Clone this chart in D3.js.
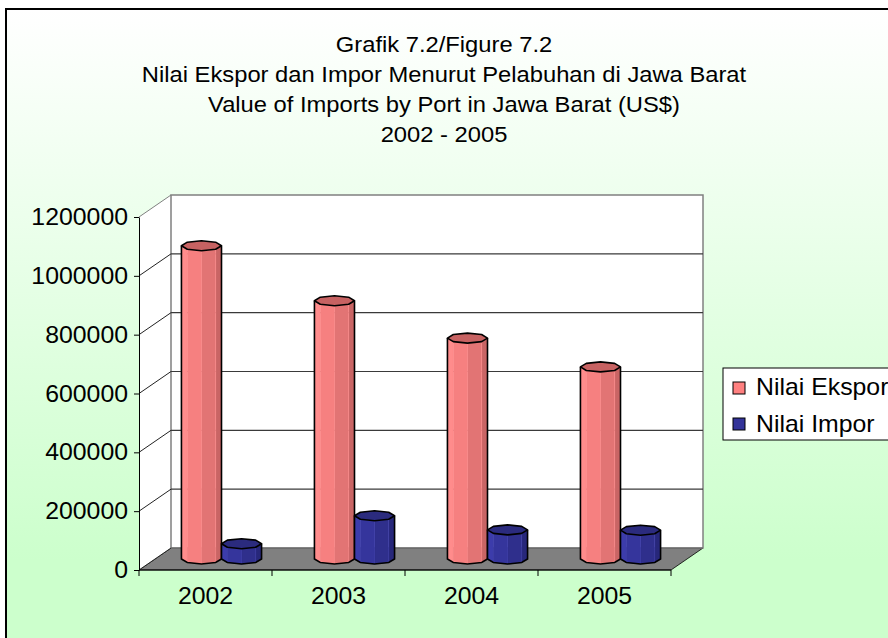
<!DOCTYPE html>
<html>
<head>
<meta charset="utf-8">
<script src="https://cdn.jsdelivr.net/npm/d3@7"></script>
<style>
  body { margin: 0; background: #fff; }
  svg text { font-family: "Liberation Sans", Arial, sans-serif; fill: #000; }
</style>
</head>
<body>
<svg width="888" height="638"></svg>
<script>
// data
var years = ['2002', '2003', '2004', '2005'];
var series = ['Nilai Ekspor', 'Nilai Impor'];
var ekspor = [1065000, 878000, 751000, 653000];
var impor = [52000, 147000, 99000, 98000];
var yTicks = [0, 200000, 400000, 600000, 800000, 1000000, 1200000];
var titles = ['Grafik 7.2/Figure 7.2',
	'Nilai Ekspor dan Impor Menurut Pelabuhan di Jawa Barat',
	'Value of Imports by Port in Jawa Barat (US$)',
	'2002 - 2005'];

var svg = d3.select('svg'),
	width = +svg.attr('width'),
	height = +svg.attr('height');

// colours for faces, light -> dark, and top
var pal = {
	'Nilai Ekspor': { faces: ['#ff8c8c', '#f68080', '#e27474', '#c96565'], top: '#c76262', key: '#ff8080' },
	'Nilai Impor': { faces: ['#3c3cab', '#35359c', '#2f2f8c', '#27277a'], top: '#2b2b7e', key: '#333399' }
};

// background gradient
var defs = svg.append('defs');
var grad = defs.append('linearGradient').attr('id', 'bg')
	.attr('gradientUnits', 'userSpaceOnUse')
	.attr('x1', 0).attr('y1', 10).attr('x2', 0).attr('y2', 560);
grad.append('stop').attr('offset', 0).attr('stop-color', '#ffffff');
grad.append('stop').attr('offset', 1).attr('stop-color', '#ccffcc');

svg.append('rect').attr('x', 6).attr('y', 9).attr('width', 900).attr('height', 650)
	.attr('fill', 'url(#bg)').attr('stroke', '#000').attr('stroke-width', 2);

// a helper for the slightly wide excel text
function txt(g, x, y, s, anchor, size) {
	return g.append('text')
		.attr('transform', 'translate(' + x + ',' + y + ') scale(1.08,1)')
		.attr('text-anchor', anchor || 'start')
		.style('font-size', (size || 21) + 'px')
		.text(s);
}

// titles
titles.forEach(function(t, i) {
	txt(svg, 444, 52 + i * 30, t, 'middle', 22);
});

// scales (front plane)
var y = d3.scaleLinear().domain([0, 1200000]).range([570, 217]);
var x0 = d3.scaleBand().domain(years).range([139, 671]);
var x1 = d3.scaleBand().domain(series).range([0, x0.bandwidth()]).paddingOuter(0.66);
var dep = { x: 32, y: -22 };	// depth offset of back wall

var x0min = x0.range()[0], x0max = x0.range()[1];

// floor
svg.append('path')
	.attr('d', 'M' + x0min + ',' + y(0) + 'L' + x0max + ',' + y(0) +
		'L' + (x0max + dep.x) + ',' + (y(0) + dep.y) + 'L' + (x0min + dep.x) + ',' + (y(0) + dep.y) + 'Z')
	.attr('fill', '#808080').attr('stroke', '#000').attr('stroke-width', 0.8);

// side wall
svg.append('path')
	.attr('d', 'M' + x0min + ',' + y(0) + 'L' + x0min + ',' + y(1200000) +
		'L' + (x0min + dep.x) + ',' + (y(1200000) + dep.y) + 'L' + (x0min + dep.x) + ',' + (y(0) + dep.y) + 'Z')
	.attr('fill', '#fff');

// back wall
svg.append('rect')
	.attr('x', x0min + dep.x).attr('y', y(1200000) + dep.y)
	.attr('width', x0max - x0min).attr('height', y(0) - y(1200000))
	.attr('fill', '#fff').attr('stroke', '#808080').attr('stroke-width', 1.5);

// gridlines on back + side wall
yTicks.forEach(function(v) {
	if (v > 0 && v < 1200000) {
		svg.append('line')
			.attr('x1', x0min + dep.x).attr('x2', x0max + dep.x)
			.attr('y1', y(v) + dep.y).attr('y2', y(v) + dep.y)
			.attr('stroke', '#3a3a3a').attr('stroke-width', 1.2);
	}
	svg.append('line')
		.attr('x1', x0min).attr('y1', y(v))
		.attr('x2', x0min + dep.x).attr('y2', y(v) + dep.y)
		.attr('stroke', v == 1200000 ? '#808080' : '#222').attr('stroke-width', 1);
});

// base line of back wall
svg.append('line')
	.attr('x1', x0min + dep.x).attr('x2', x0max + dep.x)
	.attr('y1', y(0) + dep.y).attr('y2', y(0) + dep.y)
	.attr('stroke', '#666').attr('stroke-width', 1);

// bars as octagonal prisms
var data = [];
years.forEach(function(yr, i) {
	data.push({ year: yr, s: 'Nilai Ekspor', v: ekspor[i] });
	data.push({ year: yr, s: 'Nilai Impor', v: impor[i] });
});

var ry = 5;
var angs = d3.range(8).map(function(k) { return k * Math.PI / 4; });

function oct(cx, cy, r) {
	return angs.map(function(a) { return [cx + r * Math.cos(a), cy - ry * Math.sin(a)]; });
}

var bars = svg.append('g');
data.forEach(function(d) {
	var w = x1.bandwidth(), r = w / 2;
	var cx = x0(d.year) + x1(d.s) + r + dep.x / 2;
	var yt = y(d.v) + dep.y / 2, yb = y(0) + dep.y / 2;
	var top = oct(cx, yt, r), bot = oct(cx, yb, r);
	var g = bars.append('g');
	// front faces: vertices 4..8 (180deg -> 360deg)
	var idx = [4, 5, 6, 7, 0];
	for (var f = 0; f < 4; f++) {
		var a = idx[f], b = idx[f + 1];
		g.append('path')
			.attr('d', 'M' + top[a] + 'L' + top[b] + 'L' + bot[b] + 'L' + bot[a] + 'Z')
			.attr('fill', pal[d.s].faces[f])
			.attr('stroke', pal[d.s].faces[0]).attr('stroke-width', 0.6);
	}
	// outline of body
	g.append('path')
		.attr('d', 'M' + top[4] + 'L' + bot[4] + 'L' + bot[5] + 'L' + bot[6] + 'L' + bot[7] + 'L' + bot[0] + 'L' + top[0])
		.attr('fill', 'none').attr('stroke', '#000').attr('stroke-width', 1.6);
	// top face
	g.append('path')
		.attr('d', 'M' + top.join('L') + 'Z')
		.attr('fill', pal[d.s].top).attr('stroke', '#000').attr('stroke-width', 1.6)
		.attr('stroke-linejoin', 'round');
});

// y axis on the front
var yAxis = svg.append('g')
	.attr('transform', 'translate(' + x0min + ',0)')
	.call(d3.axisLeft(y).tickValues(yTicks).tickSize(5).tickSizeOuter(0).tickFormat(d3.format('d')));
yAxis.select('.domain').attr('stroke', '#000');
yAxis.selectAll('.tick line').attr('stroke', '#000');
yAxis.selectAll('.tick text').remove();
yTicks.forEach(function(v) {
	txt(svg, 128, y(v) + 8, d3.format('d')(v), 'end', 23);
});

// x axis (front floor edge) with ticks at category boundaries
svg.append('line').attr('x1', x0min).attr('x2', x0max).attr('y1', y(0)).attr('y2', y(0))
	.attr('stroke', '#000').attr('stroke-width', 1);
var bounds = years.map(function(yr) { return x0(yr); }).concat([x0max]);
bounds.forEach(function(bx) {
	svg.append('line').attr('x1', bx).attr('x2', bx).attr('y1', y(0)).attr('y2', y(0) + 6)
		.attr('stroke', '#000');
});
years.forEach(function(yr) {
	txt(svg, x0(yr) + x0.bandwidth() / 2, 604, yr, 'middle', 23);
});

// legend
var leg = svg.append('g');
leg.append('rect').attr('x', 723).attr('y', 368).attr('width', 200).attr('height', 72)
	.attr('fill', '#fff').attr('stroke', '#000').attr('stroke-width', 1);
series.forEach(function(s, i) {
	leg.append('rect').attr('x', 733).attr('y', 382 + i * 36).attr('width', 12).attr('height', 12)
		.attr('fill', pal[s].key).attr('stroke', '#000').attr('stroke-width', 1);
	txt(leg, 756, 395 + i * 37, s, 'start', 23);
});
</script>
</body>
</html>
